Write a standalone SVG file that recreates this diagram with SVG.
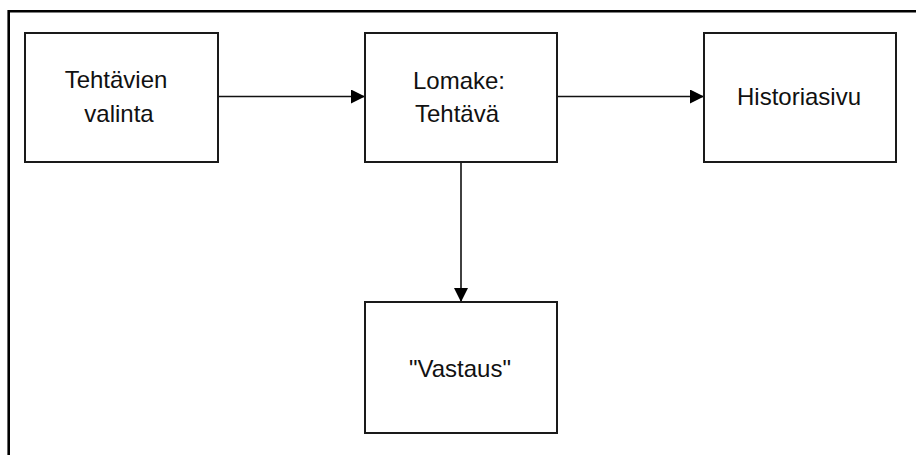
<svg xmlns="http://www.w3.org/2000/svg" width="916" height="455" viewBox="0 0 916 455">
  <style>
    .box { fill: #fff; stroke: #1a1a1a; stroke-width: 2; }
    .lbl { font-family: "Liberation Sans", Arial, sans-serif; font-size: 24px; fill: #111; text-anchor: middle; }
    .edge { stroke: #111; stroke-width: 1.6; fill: none; marker-end: url(#head); }
    .frame { stroke: #000; stroke-width: 2.6; fill: none; }
  </style>
  <defs>
    <marker id="head" viewBox="0 0 14 14" refX="14" refY="7" markerWidth="14" markerHeight="14" markerUnits="userSpaceOnUse" orient="auto">
      <path d="M0,0 L14,7 L0,14 Z" fill="#000"/>
    </marker>
  </defs>
  <rect width="916" height="455" fill="#fff"/>
  <!-- outer frame: left and top edges only -->
  <path class="frame" d="M8.7,455 V11.3 H916"/>

  <g id="connectors">
    <line class="edge" x1="218" y1="96.5" x2="365" y2="96.5"/>
    <line class="edge" x1="557" y1="96.5" x2="704" y2="96.5"/>
    <line class="edge" x1="461" y1="162" x2="461" y2="302"/>
  </g>

  <g id="tehtavien-valinta">
    <rect class="box" x="25" y="33" width="193" height="129"/>
    <text class="lbl" x="116" y="88">Tehtävien</text>
    <text class="lbl" x="119" y="122">valinta</text>
  </g>

  <g id="lomake-tehtava">
    <rect class="box" x="365" y="33" width="192" height="129"/>
    <text class="lbl" x="459" y="89">Lomake:</text>
    <text class="lbl" x="457" y="122">Tehtävä</text>
  </g>

  <g id="historiasivu">
    <rect class="box" x="704" y="33" width="192" height="129"/>
    <text class="lbl" x="799" y="105">Historiasivu</text>
  </g>

  <g id="vastaus">
    <rect class="box" x="365" y="302" width="192" height="131"/>
    <text class="lbl" x="460" y="377">"Vastaus"</text>
  </g>
</svg>
